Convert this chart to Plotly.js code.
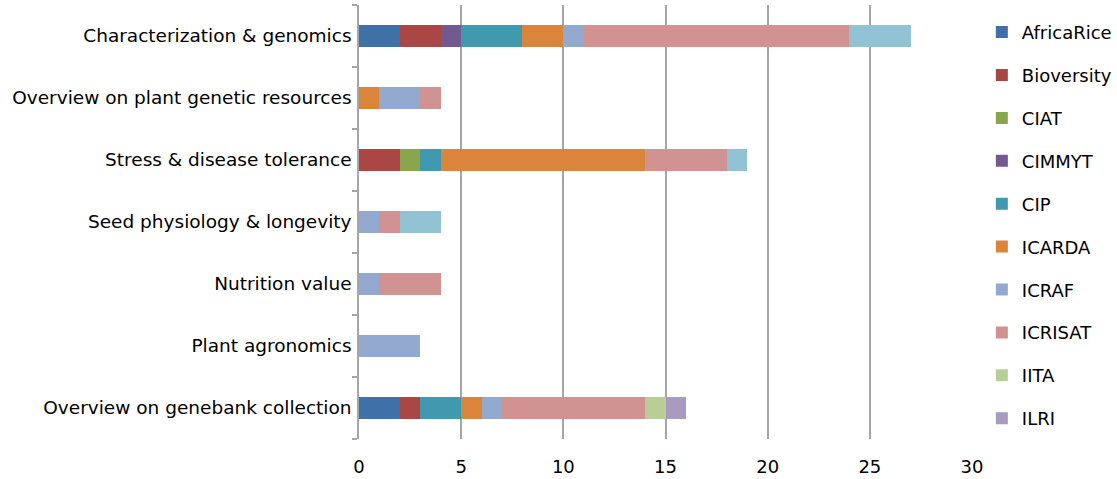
<!DOCTYPE html>
<html>
<head>
<meta charset="utf-8">
<script src="https://cdn.plot.ly/plotly-3.0.1.min.js"></script>
<style>html,body{margin:0;padding:0;background:#fff;}#chart{width:1117px;height:479px;}</style>
</head>
<body>
<div id="chart"></div>
<script>
// Categories listed bottom-to-top (Plotly category y axis)
const categories = [
  "Overview on genebank collection",
  "Plant agronomics",
  "Nutrition value",
  "Seed physiology & longevity",
  "Stress & disease tolerance",
  "Overview on plant genetic resources",
  "Characterization & genomics"
];
const AfricaRice = [2, 0, 0, 0, 0, 0, 2];
const Bioversity = [1, 0, 0, 0, 2, 0, 2];
const CIAT       = [0, 0, 0, 0, 1, 0, 0];
const CIMMYT     = [0, 0, 0, 0, 0, 0, 1];
const CIP        = [2, 0, 0, 0, 1, 0, 3];
const ICARDA     = [1, 0, 0, 0, 10, 1, 2];
const ICRAF      = [1, 3, 1, 1, 0, 2, 1];
const ICRISAT    = [7, 0, 3, 1, 4, 1, 13];
const IITA       = [1, 0, 0, 0, 0, 0, 0];
const ILRI       = [1, 0, 0, 0, 0, 0, 0];
const IRRI       = [0, 0, 0, 2, 1, 0, 3];

const seriesNames = ["AfricaRice","Bioversity","CIAT","CIMMYT","CIP","ICARDA","ICRAF","ICRISAT","IITA","ILRI","IRRI"];
const seriesValues = [AfricaRice,Bioversity,CIAT,CIMMYT,CIP,ICARDA,ICRAF,ICRISAT,IITA,ILRI,IRRI];
const colors = ["#3F70A8","#AA4744","#8AA64D","#72598F","#4199AF","#DB843C","#93A9D0","#D19392","#B9CD96","#A99BBF","#92C3D5"];

const traces = seriesNames.map((n, i) => ({
  type: "bar",
  orientation: "h",
  name: n,
  y: categories,
  x: seriesValues[i],
  marker: {color: colors[i], line: {width: 0}},
  legendgroup: n,
  showlegend: n !== "IRRI",
  hoverinfo: "x+name"
}));

const layout = {
  width: 1117, height: 479,
  margin: {l: 359, r: 145, t: 5, b: 40},
  barmode: "stack",
  bargap: 0.63,
  paper_bgcolor: "#fff",
  plot_bgcolor: "#fff",
  font: {family: "'DejaVu Sans', sans-serif", size: 18, color: "#000"},
  xaxis: {
    range: [0, 30],
    tickvals: [0, 5, 10, 15, 20, 25, 30],
    showgrid: true, gridcolor: "#A6A6A6", gridwidth: 1.5,
    zeroline: false, showline: false, ticks: "",
    ticklabelstandoff: 15,
    tickfont: {size: 18}
  },
  yaxis: {
    type: "category",
    categoryorder: "array", categoryarray: categories,
    showline: true, linecolor: "#A6A6A6", linewidth: 1.5,
    ticks: "outside", tickson: "boundaries", ticklen: 5, tickcolor: "#A6A6A6", tickwidth: 1.5,
    showgrid: false, ticklabelstandoff: 2,
    tickfont: {size: 18.5}
  },
  legend: {
    xref: "container", yref: "container",
    x: 0.879, xanchor: "left", y: 0.971, yanchor: "top",
    maxheight: 479,
    traceorder: "grouped",
    tracegroupgap: 16.5,
    font: {size: 18}
  }
};
Plotly.newPlot("chart", traces, layout, {displayModeBar: false});
</script>
</body>
</html>
